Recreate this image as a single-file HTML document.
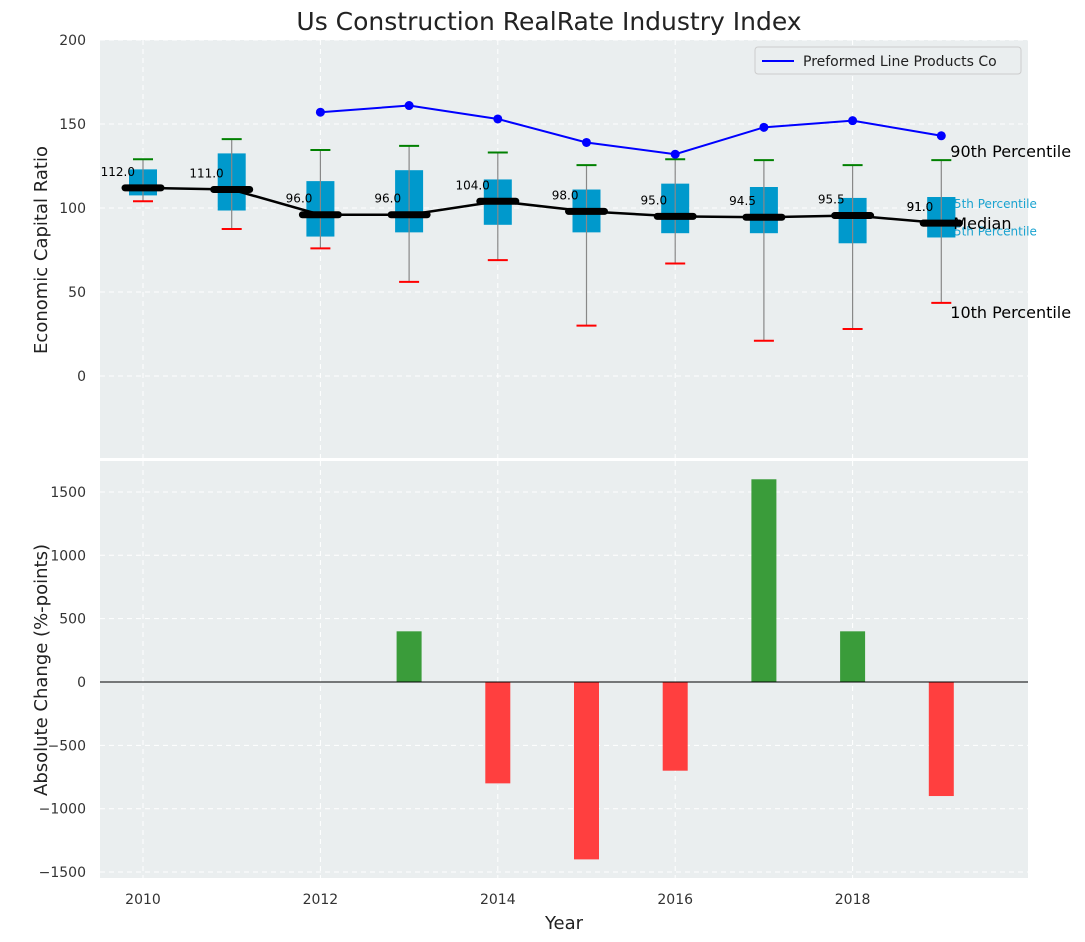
<!DOCTYPE html>
<html><head><meta charset="utf-8"><style>
body{margin:0;background:#fff;}
svg{display:block;font-family:"DejaVu Sans","Liberation Sans",sans-serif;}
</style></head><body>
<svg id="chart" width="1085" height="942">
<text x="549" y="30" text-anchor="middle" font-size="25" fill="#222">Us Construction RealRate Industry Index</text>
<rect x="100" y="40" width="928" height="418" fill="#eaeeef"/>
<rect x="100" y="461" width="928" height="417" fill="#eaeeef"/>
<g id="grid"></g><g id="top"></g><g id="bottom"></g><g id="axes"></g>
<text transform="translate(47,250) rotate(-90)" text-anchor="middle" font-size="18" fill="#222">Economic Capital Ratio</text>
<text transform="translate(47,670) rotate(-90)" text-anchor="middle" font-size="18" fill="#222">Absolute Change (%-points)</text>
<text x="564" y="929" text-anchor="middle" font-size="18" fill="#222">Year</text>
<g>
<rect x="755" y="47" width="266" height="27" rx="3" fill="#eaeeef" stroke="#ccc"/>
<line x1="762" y1="61" x2="794" y2="61" stroke="#0000ff" stroke-width="2"/>
<text x="803" y="66" font-size="14" fill="#222">Preformed Line Products Co</text>
</g>
</svg>
<script>
const years=[2010,2011,2012,2013,2014,2015,2016,2017,2018,2019];
const medians=[112,111,96,96,104,98,95,94.5,95.5,91];
const q1=[107.5,98.5,83,85.5,90,85.5,85,85,79,82.5];
const q3=[123,132.5,116,122.5,117,111,114.5,112.5,106,106.5];
const p10=[104,87.5,76,56,69,30,67,21,28,43.5];
const p90=[129,141,134.5,137,133,125.5,129,128.5,125.5,128.5];
const companyYears=[2012,2013,2014,2015,2016,2017,2018,2019];
const companyValues=[157,161,153,139,132,148,152,143];
const changeYears=[2013,2014,2015,2016,2017,2018,2019];
const changeValues=[400,-800,-1400,-700,1600,400,-900];
const topTicks=[0,50,100,150,200];
const botTicks=[-1500,-1000,-500,0,500,1000,1500];
const xTicks=[2010,2012,2014,2016,2018];

const NS="http://www.w3.org/2000/svg";
const X=v=>143+(v-2010)*88.7;
const YT=v=>376-v*1.68;
const YB=v=>682-v*0.1267;
function mk(p,t,a){const e=document.createElementNS(NS,t);for(const k in a)e.setAttribute(k,a[k]);p.appendChild(e);return e;}
const G=document.getElementById('grid'),T=document.getElementById('top'),B=document.getElementById('bottom'),A=document.getElementById('axes');

topTicks.forEach(v=>{const y=YT(v);
 let l=mk(G,'line',{x1:100,x2:1028,y1:y,y2:y,stroke:'#fff','stroke-dasharray':'5,4'});
 
 let t=mk(A,'text',{x:86,y:y+5,'text-anchor':'end','font-size':14,fill:'#333'});t.textContent=v;
 });
botTicks.forEach(v=>{const y=YB(v);
 let l=mk(G,'line',{x1:100,x2:1028,y1:y,y2:y,stroke:'#fff','stroke-dasharray':'5,4'});
 
 let t=mk(A,'text',{x:86,y:y+5,'text-anchor':'end','font-size':14,fill:'#333'});t.textContent=v===0?'0':String(v).replace('-','\u2212');
 });
xTicks.forEach(v=>{const x=X(v);
 for(const [a,b] of [[40,458],[461,878]]){let l=mk(G,'line',{x1:x,x2:x,y1:a,y2:b,stroke:'#fff','stroke-dasharray':'5,4'});
 }
 let t=mk(A,'text',{x:x,y:904,'text-anchor':'middle','font-size':14,fill:'#333'});t.textContent=v;
 });

years.forEach((yr,i)=>{const x=X(yr);
 let b=mk(T,'rect',{x:x-14,y:YT(q3[i]),width:28,height:YT(q1[i])-YT(q3[i]),fill:'#0099cc'});
 
 let w=mk(T,'line',{x1:x,x2:x,y1:YT(p90[i]),y2:YT(p10[i]),stroke:'#888','stroke-width':1.2});
 
 let c1=mk(T,'line',{x1:x-10,x2:x+10,y1:YT(p90[i]),y2:YT(p90[i]),stroke:'green','stroke-width':2});
 
 let c2=mk(T,'line',{x1:x-10,x2:x+10,y1:YT(p10[i]),y2:YT(p10[i]),stroke:'red','stroke-width':2});
 
});
let mp=mk(T,'polyline',{points:years.map((y,i)=>X(y)+','+YT(medians[i])).join(' '),fill:'none',stroke:'#000','stroke-width':2.5});

years.forEach((yr,i)=>{const x=X(yr),y=YT(medians[i]);
 let m=mk(T,'line',{x1:x-18,x2:x+18,y1:y,y2:y,stroke:'#000','stroke-width':7,'stroke-linecap':'round'});
 
 let t=mk(T,'text',{x:x-8,y:y-12,'text-anchor':'end','font-size':12,fill:'#000'});t.textContent=medians[i].toFixed(1);
 });
let cl=mk(T,'polyline',{points:companyYears.map((y,i)=>X(y)+','+YT(companyValues[i])).join(' '),fill:'none',stroke:'#0000ff','stroke-width':2});

companyYears.forEach((yr,i)=>{let c=mk(T,'circle',{cx:X(yr),cy:YT(companyValues[i]),r:4.5,fill:'#0000ff'});
 });
const lx=X(2019);
[['90th Percentile',lx+9,157,16,'#000'],['10th Percentile',lx+9,YT(p10[9])+15,16,'#000'],
 ['75th Percentile',lx+5,YT(q3[9])+11,12,'#1aa3d0'],['25th Percentile',lx+5,YT(q1[9])-2,12,'#1aa3d0']].forEach(a=>{
 let t=mk(T,'text',{x:a[1],y:a[2],'font-size':a[3],fill:a[4]});t.textContent=a[0];
 });
let rb=mk(T,'rect',{x:lx-14,y:YT(q3[9]),width:28,height:YT(q1[9])-YT(q3[9]),fill:'#0099cc'});

let rw=mk(T,'line',{x1:lx,x2:lx,y1:YT(q3[9]),y2:YT(q1[9]),stroke:'#888','stroke-width':1.2});

let rm=mk(T,'line',{x1:lx-18,x2:lx+18,y1:YT(medians[9]),y2:YT(medians[9]),stroke:'#000','stroke-width':7,'stroke-linecap':'round'});

let rl=mk(T,'text',{x:lx-8,y:YT(medians[9])-12,'text-anchor':'end','font-size':12,fill:'#000'});rl.textContent=medians[9].toFixed(1);

let rt=mk(T,'text',{x:lx+12,y:YT(medians[9])+6,'font-size':16,fill:'#000'});rt.textContent='Median';

changeYears.forEach((yr,i)=>{const v=changeValues[i];const y0=YB(Math.max(v,0)),y1=YB(Math.min(v,0));
 let r=mk(B,'rect',{x:X(yr)-12.5,y:y0,width:25,height:y1-y0,fill:v>=0?'#3a9c3a':'#ff3f3f'});
 });
let z=mk(B,'line',{x1:100,x2:1028,y1:YB(0),y2:YB(0),stroke:'#000','stroke-width':1});

</script>
</body></html>
